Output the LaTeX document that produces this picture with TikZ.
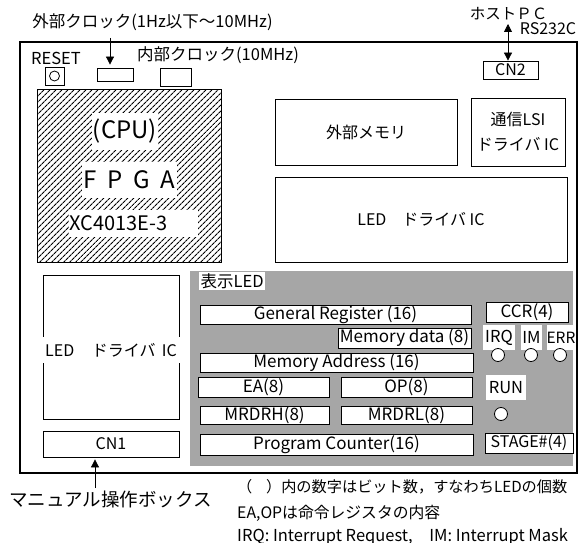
\documentclass[tikz,border=0pt]{standalone}
\usepackage{fontspec}
\setmainfont{Noto Sans CJK JP}
\usetikzlibrary{patterns.meta,arrows.meta}
\begin{document}
\begin{tikzpicture}[x=1pt,y=-1pt,
  box/.style={draw, fill=white, line width=0.8pt, inner sep=0pt, font=\fontsize{16}{18}\selectfont},
  reg/.style={box, font=\fontsize{17}{19}\selectfont},
  lbl/.style={fill=white, inner sep=1pt, font=\fontsize{16.5}{19}\selectfont},
  txt/.style={inner sep=0pt, font=\fontsize{16.5}{18}\selectfont},
  note/.style={inner sep=0pt, anchor=west, font=\fontsize{16.5}{19}\selectfont},
  led/.style={draw, fill=white, line width=0.8pt, circle, minimum size=13pt, inner sep=0pt},
  arr/.style={line width=0.8pt, -{Triangle[width=8pt,length=8pt]}},
  darr/.style={line width=0.8pt, {Triangle[width=8pt,length=8pt]}-{Triangle[width=8pt,length=8pt]}}]
\useasboundingbox (0,0) rectangle (584,543);
\fill[white] (0,0) rectangle (584,543);
% board
\node[draw, line width=1.2pt, minimum width=557pt, minimum height=431pt, inner sep=0pt] (board) at (298.5,257.5) {};
% top texts
\node[txt] (text) at (152.5,22) {外部クロック(1Hz以下〜10MHz)};
\node[txt] (treset) at (56,58) {RESET};
\node[txt] (tint) at (218,55) {内部クロック(10MHz)};
\node[txt, font=\fontsize{15.5}{17}\selectfont] (thost) at (508.5,14) {ホストＰＣ};
\node[txt, font=\fontsize{16}{18}\selectfont] (trs) at (548,29) {RS232C};
% small boxes
\node[box, minimum width=19pt, minimum height=18pt] (reset) at (54.5,76) {};
\node[draw, circle, line width=0.8pt, minimum size=10pt, inner sep=0pt] (resetbtn) at (reset.center) {};
\node[box, minimum width=36pt, minimum height=13pt] (extclk) at (115,74.5) {};
\node[box, minimum width=31pt, minimum height=18pt] (intclk) at (175.5,77) {};
\node[box, minimum width=55pt, minimum height=18pt] (cn2) at (510.5,70) {CN2};
% arrows top
\coordinate (ea1) at (110,38);
\draw[arr, shorten >=3pt] (ea1) -- (ea1 |- extclk.north);
\coordinate (ha1) at (508,24);
\draw[darr] (ha1) -- (ha1 |- cn2.north);
% FPGA
\node[draw, line width=1pt, minimum width=184pt, minimum height=172pt, inner sep=0pt,
  pattern={Lines[angle=45,distance=4pt,line width=1.1pt]}] (fpga) at (129,176) {};
\node[fill=white, minimum width=66pt, minimum height=37pt, inner sep=0pt, font=\fontsize{24}{26}\selectfont] (cpu) at (125,131.5) {(CPU)};
\node[fill=white, minimum width=95pt, minimum height=36pt, inner sep=0pt, font=\fontsize{24}{26}\selectfont] (fpgat) at (129.5,180) {F\hspace{0.45em}P\hspace{0.45em}G\hspace{0.45em}A};
\node[fill=white, minimum height=27pt, text width=128pt, inner xsep=0.5pt, inner ysep=0pt, align=left, font=\fontsize{20}{22}\selectfont] (xc) at (133.5,223.5) {XC4013E-3};
% right top blocks
\node[box, minimum width=182pt, minimum height=66pt] (extmem) at (366,132) {外部メモリ};
\node[box, minimum width=94pt, minimum height=68pt, align=center, font=\fontsize{16}{25}\selectfont] (comm) at (518,132) {通信LSI\\ドライバ IC};
\node[box, minimum width=292pt, minimum height=85pt] (led1) at (421,219.5) {LED\hspace{1em}ドライバ IC};
% left lower
\node[box, minimum width=136pt, minimum height=144pt] (led2) at (111,347) {};
\node[fill=white, inner sep=0pt, minimum width=138pt, minimum height=26pt, font=\fontsize{16}{18}\selectfont] (led2t) at (111,350) {LED\hspace{1.1em}ドライバ\hspace{0.4em}IC};
\node[box, minimum width=136pt, minimum height=26pt] (cn1) at (111,444) {CN1};
% LED display panel
\fill[black!35] (190,271) rectangle (573,466);
\node[lbl, anchor=north west, inner sep=1.5pt] (disp) at (199,272) {表示LED};
\node[reg, minimum width=271pt, minimum height=19pt] (gr) at (335.5,314.5) {General Register (16)};
\node[reg, minimum width=133pt, minimum height=20pt] (md) at (404.5,338) {Memory data (8)};
\node[reg, minimum width=273pt, minimum height=19pt] (ma) at (336.5,362.5) {Memory Address (16)};
\node[reg, minimum width=131pt, minimum height=20pt] (eareg) at (263.5,387) {EA(8)};
\node[reg, minimum width=131pt, minimum height=20pt] (opreg) at (406.5,387) {OP(8)};
\node[reg, minimum width=129pt, minimum height=18pt] (mrdrh) at (264.5,415) {MRDRH(8)};
\node[reg, minimum width=131pt, minimum height=18pt] (mrdrl) at (406.5,415) {MRDRL(8)};
\node[reg, minimum width=273pt, minimum height=21pt] (pc) at (336.5,444.5) {Program Counter(16)};
\node[reg, minimum width=82pt, minimum height=20pt] (ccr) at (527,312) {CCR(4)};
\node[lbl, minimum width=32pt, minimum height=25pt, inner sep=0pt] (irq) at (499,337.5) {IRQ};
\node[lbl, minimum width=21pt, minimum height=25pt, inner sep=0pt] (im) at (531.5,337.5) {IM};
\node[lbl, minimum width=29pt, minimum height=25pt, inner sep=0pt, font=\fontsize{15.5}{18}\selectfont] (err) at (561,337.5) {ERR};
\node[led] (irqled) at (498,355) {};
\node[led] (imled) at (531,355) {};
\node[led] (errled) at (560,355) {};
\node[lbl, minimum width=40pt, minimum height=25pt, inner sep=0pt] (run) at (506,387.5) {RUN};
\node[led] (runled) at (501,414) {};
\node[reg, minimum width=88pt, minimum height=20pt, font=\fontsize{16}{18}\selectfont] (stage) at (529,443) {STAGE\#(4)};
% bottom
\node[txt, font=\fontsize{18.5}{20}\selectfont] (manual) at (110.5,499) {マニュアル操作ボックス};
\coordinate (ma1) at (95,488);
\draw[arr, shorten >=2pt] (ma1) -- (ma1 |- cn1.south);
\node[note, font=\fontsize{15.2}{18}\selectfont] (n1) at (237,487) {（\hspace{0.9em}）内の数字はビット数，すなわちLEDの個数};
\node[note, font=\fontsize{15.8}{18}\selectfont] (n2) at (237,513) {EA,OPは命令レジスタの内容};
\node[note] (n3) at (237,537) {IRQ: Interrupt Request,\hspace{1em}IM: Interrupt Mask};
\end{tikzpicture}
\end{document}
